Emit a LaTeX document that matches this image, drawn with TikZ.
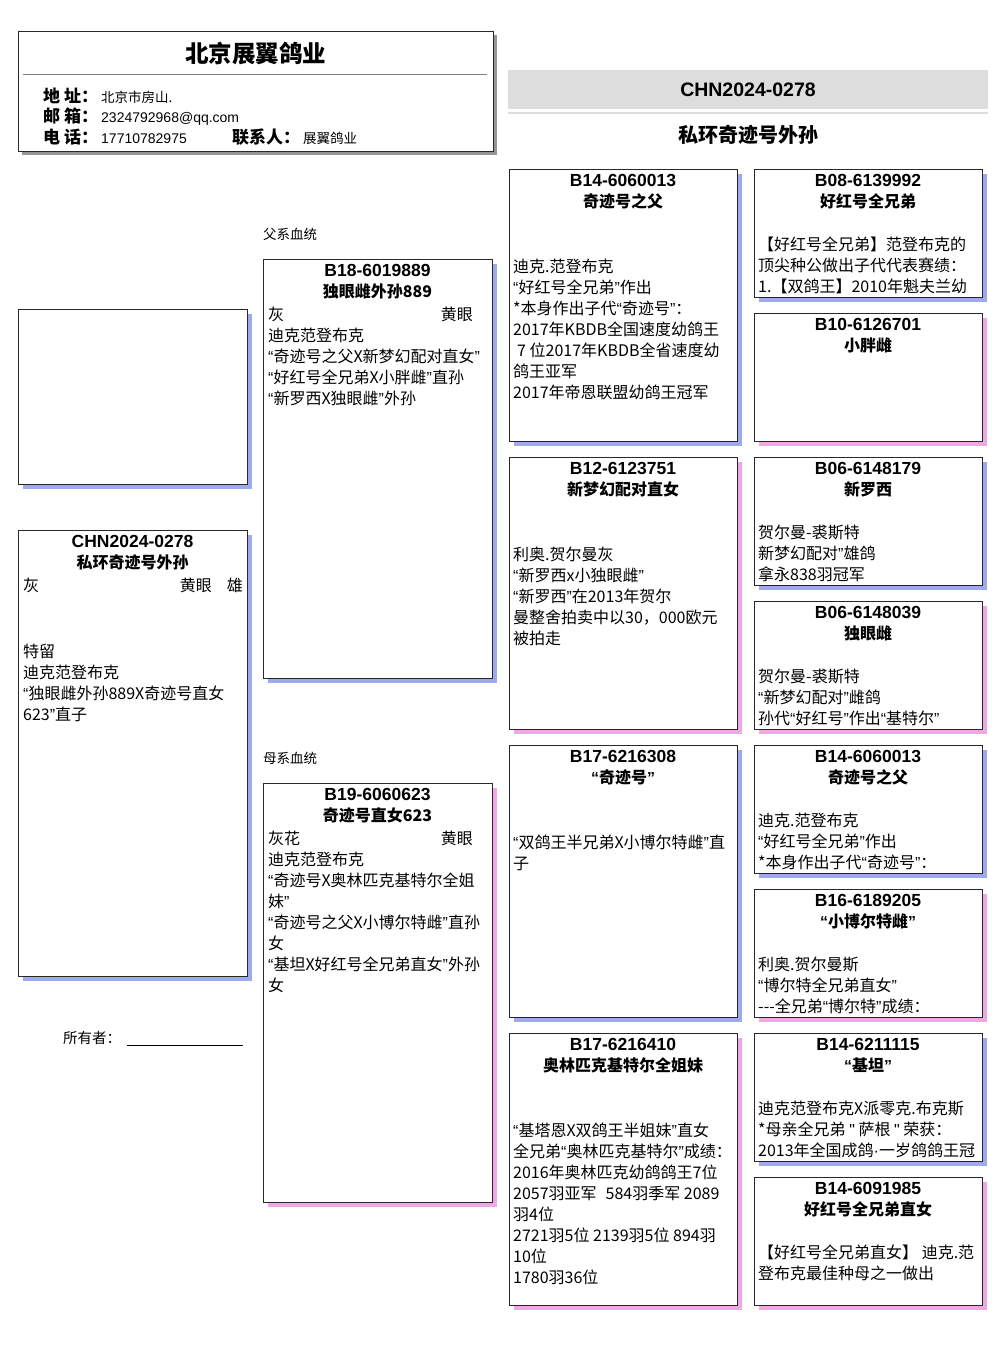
\documentclass[tikz,border=0pt]{standalone}
\usepackage{fontspec}
\setmainfont{Noto Sans CJK SC}
\newfontfamily\lat{Liberation Sans}
\definecolor{mblue}{RGB}{158,170,236}
\definecolor{fpink}{RGB}{240,168,228}
\definecolor{bord}{RGB}{40,40,40}
\definecolor{bandc}{RGB}{221,221,221}
\definecolor{hshadow}{RGB}{150,150,150}
\newcommand\oq{{\lat “}}
\newcommand\cq{{\lat ”}}
\newcommand\bodyf{\fontsize{16}{21}\selectfont}
\newcommand\titf{\bfseries\fontsize{16}{21}\selectfont}
\newcommand\idf{\lat\bfseries\fontsize{17.5}{21}\selectfont}
\newcommand\pedbox[6]{%
  \fill[#6] (#2+5,#3+5) rectangle (#4+5,#5+5);
  \draw[boxst] (#2,#3) rectangle (#4,#5);
  \coordinate (#1) at (#2,#3);}
\newcommand\pedtitle[5]{%
  \node[idt] (#1id) at (#2,#3+17) {#4};
  \node[ttl] (#1nm) at (#2,#3+38) {#5};}
\newcommand\pedbody[4]{%
  \node[txt] (#1) at (#2,#3) {\parbox[t]{250pt}{\raggedright #4}};}
\tikzset{
  boxst/.style={draw=bord, line width=1pt, fill=white},
  txt/.style={inner sep=0pt, anchor=base west, font=\bodyf},
  ttl/.style={inner sep=0pt, anchor=base, font=\titf},
  idt/.style={inner sep=0pt, anchor=base, font=\idf},
  lab/.style={inner sep=0pt, anchor=base west, font=\bfseries\fontsize{17}{20}\selectfont},
  val/.style={inner sep=0pt, anchor=base west, font=\fontsize{13.5}{16}\selectfont},
  valn/.style={inner sep=0pt, anchor=base west, font=\lat\fontsize{14}{16}\selectfont},
  small/.style={inner sep=0pt, anchor=base west, font=\fontsize{13.5}{16}\selectfont},
}
\begin{document}
\begin{tikzpicture}[x=1pt,y=-1pt]
\useasboundingbox (0,0) rectangle (1006,1366);
\fill[white] (0,0) rectangle (1006,1366);
% header
\fill[hshadow] (22,35) rectangle (497,155);
\draw[boxst] (18,31) rectangle (493,151);
\node[anchor=base, inner sep=0pt, font=\bfseries\fontsize{23.5}{28}\selectfont] (htitle) at (255.5,62) {北京展翼鸽业};
\draw[gray, line width=1pt] (23,74) -- (487,74);
\node[lab] (l1) at (43,102) {地\hspace{4pt}址：};
\node[val] (v1) at (101,102) {北京市房山.};
\node[lab] (l2) at (43,122) {邮\hspace{4pt}箱：};
\node[valn] (v2) at (101,122) {2324792968@qq.com};
\node[lab] (l3) at (43,143) {电\hspace{4pt}话：};
\node[valn] (v3) at (101,143) {17710782975};
\node[lab] (l4) at (232,143) {联系人：};
\node[val] (v4) at (303,143) {展翼鸽业};
% right header
\fill[bandc] (508,70) rectangle (988,109);
\draw[bandc, line width=2.3pt] (508,113) -- (988,113);
\node[anchor=base, inner sep=0pt, font=\lat\bfseries\fontsize{19.5}{22}\selectfont] (rid) at (748,96) {CHN2024-0278};
\node[anchor=base, inner sep=0pt, font=\bfseries\fontsize{20}{24}\selectfont] (rname) at (748,142) {私环奇迹号外孙};
% column A
\pedbox{photo}{18}{309}{247}{484}{mblue}
\pedbox{self}{18}{530}{247}{976}{mblue}
\pedtitle{self}{132.5}{530}{CHN2024-0278}{私环奇迹号外孙}
\node[txt] (selfc) at (23,591) {灰};
\node[txt, anchor=base east] (selfe) at (212,591) {黄眼};
\node[txt, anchor=base east] (selfs) at (243,591) {雄};
\node[txt] (selfb) at (23,657) {\parbox[t]{250pt}{\raggedright\fontsize{16}{21.3}\selectfont 特留\\
迪克范登布克\\
\oq 独眼雌外孙889X奇迹号直女\\
623\cq 直子}};
\node[anchor=base west, inner sep=0pt, font=\fontsize{14.5}{17}\selectfont] (owner) at (63,1043) {所有者：};
\coordinate (ownerend) at (243,1045.5);
\draw[black, line width=0.9pt] (owner.base east) ++(6,2.5) -- (ownerend);
% column B
\node[small] (patlab) at (263,239) {父系血统};
\node[small] (matlab) at (263,763) {母系血统};
\pedbox{sire}{263}{259}{492}{678}{mblue}
\pedtitle{sire}{377.5}{259}{B18-6019889}{独眼雌外孙889}
\node[txt] (sirec) at (268,320) {灰};
\node[txt, anchor=base east] (siree) at (473,320) {黄眼};
\pedbody{sireb}{268}{341}{迪克范登布克\\
\oq 奇迹号之父X新梦幻配对直女\cq\\
\oq 好红号全兄弟X小胖雌\cq 直孙\\
\oq 新罗西X独眼雌\cq 外孙}
\pedbox{dam}{263}{783}{492}{1202}{fpink}
\pedtitle{dam}{377.5}{783}{B19-6060623}{奇迹号直女623}
\node[txt] (damc) at (268,844) {灰花};
\node[txt, anchor=base east] (dame) at (473,844) {黄眼};
\pedbody{damb}{268}{865}{迪克范登布克\\
\oq 奇迹号X奥林匹克基特尔全姐\\
妹\cq\\
\oq 奇迹号之父X小博尔特雌\cq 直孙\\
女\\
\oq 基坦X好红号全兄弟直女\cq 外孙\\
女}
% column C
\pedbox{c1}{509}{169}{737}{441}{mblue}
\pedtitle{c1}{623}{169}{B14-6060013}{奇迹号之父}
\pedbody{c1b}{513}{272}{迪克.范登布克\\
\oq 好红号全兄弟\cq 作出\\
\relax{*}本身作出子代\oq 奇迹号\cq ：\\
2017年KBDB全国速度幼鸽王\\
\hspace*{4pt}7 位2017年KBDB全省速度幼\\
鸽王亚军\\
2017年帝恩联盟幼鸽王冠军}
\pedbox{c2}{509}{457}{737}{729}{fpink}
\pedtitle{c2}{623}{457}{B12-6123751}{新梦幻配对直女}
\pedbody{c2b}{513}{560}{利奥.贺尔曼灰\\
\oq 新罗西x小独眼雌\cq\\
\oq 新罗西\cq 在2013年贺尔\\
曼整舍拍卖中以30，000欧元\\
被拍走}
\pedbox{c3}{509}{745}{737}{1017}{mblue}
\pedtitle{c3}{623}{745}{B17-6216308}{\oq 奇迹号\cq}
\pedbody{c3b}{513}{848}{\oq 双鸽王半兄弟X小博尔特雌\cq 直\\
子}
\pedbox{c4}{509}{1033}{737}{1305}{fpink}
\pedtitle{c4}{623}{1033}{B17-6216410}{奥林匹克基特尔全姐妹}
\pedbody{c4b}{513}{1136}{\oq 基塔恩X双鸽王半姐妹\cq 直女\\
全兄弟\oq 奥林匹克基特尔\cq 成绩：\\
2016年奥林匹克幼鸽鸽王7位\\
2057羽亚军\hspace{9pt}584羽季军 2089\\
羽4位\\
2721羽5位 2139羽5位 894羽\\
10位\\
1780羽36位}
% column D
\pedbox{d1}{754}{169}{982}{297}{mblue}
\pedtitle{d1}{868}{169}{B08-6139992}{好红号全兄弟}
\pedbody{d1b}{758}{250}{【好红号全兄弟】范登布克的\\
顶尖种公做出子代代表赛绩：\\
1.【双鸽王】2010年魁夫兰幼}
\pedbox{d2}{754}{313}{982}{441}{fpink}
\pedtitle{d2}{868}{313}{B10-6126701}{小胖雌}
\pedbox{d3}{754}{457}{982}{585}{mblue}
\pedtitle{d3}{868}{457}{B06-6148179}{新罗西}
\pedbody{d3b}{758}{538}{贺尔曼-裘斯特\\
新梦幻配对\cq 雄鸽\\
拿永838羽冠军}
\pedbox{d4}{754}{601}{982}{729}{fpink}
\pedtitle{d4}{868}{601}{B06-6148039}{独眼雌}
\pedbody{d4b}{758}{682}{贺尔曼-裘斯特\\
\oq 新梦幻配对\cq 雌鸽\\
孙代\oq 好红号\cq 作出\oq 基特尔\cq}
\pedbox{d5}{754}{745}{982}{873}{mblue}
\pedtitle{d5}{868}{745}{B14-6060013}{奇迹号之父}
\pedbody{d5b}{758}{826}{迪克.范登布克\\
\oq 好红号全兄弟\cq 作出\\
\relax{*}本身作出子代\oq 奇迹号\cq ：}
\pedbox{d6}{754}{889}{982}{1017}{fpink}
\pedtitle{d6}{868}{889}{B16-6189205}{\oq 小博尔特雌\cq}
\pedbody{d6b}{758}{970}{利奥.贺尔曼斯\\
\oq 博尔特全兄弟直女\cq\\
-{}-{}-全兄弟\oq 博尔特\cq 成绩：}
\pedbox{d7}{754}{1033}{982}{1161}{mblue}
\pedtitle{d7}{868}{1033}{B14-6211115}{\oq 基坦\cq}
\pedbody{d7b}{758}{1114}{迪克范登布克X派零克.布克斯\\
\relax{*}母亲全兄弟 {\lat "} 萨根 {\lat "} 荣获：\\
2013年全国成鸽{\lat ·}一岁鸽鸽王冠}
\pedbox{d8}{754}{1177}{982}{1305}{fpink}
\pedtitle{d8}{868}{1177}{B14-6091985}{好红号全兄弟直女}
\pedbody{d8b}{758}{1258}{【好红号全兄弟直女】 迪克.范\\
登布克最佳种母之一做出}
\end{tikzpicture}
\end{document}
